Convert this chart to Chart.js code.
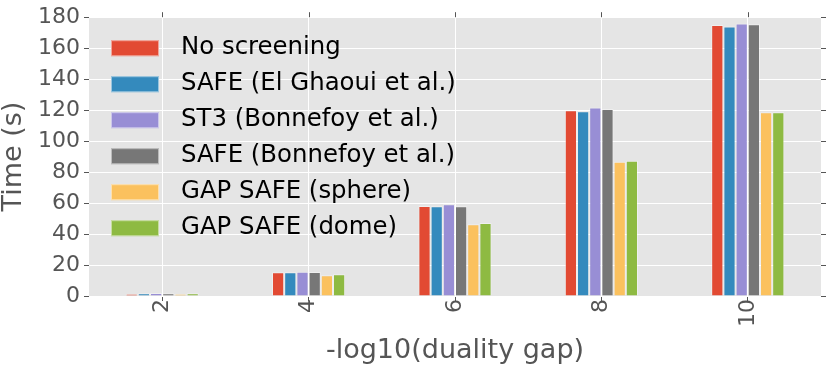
<!DOCTYPE html>
<html>
<head>
<meta charset="utf-8">
<script src="https://cdn.jsdelivr.net/npm/chart.js@4/dist/chart.umd.min.js"></script>
<style>
  html, body { margin: 0; padding: 0; background: #fff; }
  #wrap { width: 830px; height: 369px; }
</style>
</head>
<body>
<div id="wrap"><canvas id="timeChart"></canvas></div>
<script>
// data
const categories = ['2', '4', '6', '8', '10'];
const seriesNames = [
    'No screening',
    'SAFE (El Ghaoui et al.)',
    'ST3 (Bonnefoy et al.)',
    'SAFE (Bonnefoy et al.)',
    'GAP SAFE (sphere)',
    'GAP SAFE (dome)'
];
const noScreening  = [1.3, 15.3, 58.1, 120.0, 174.9];
const safeElGhaoui = [1.8, 15.3, 58.0, 119.2, 174.0];
const st3Bonnefoy  = [2.0, 15.7, 59.2, 121.7, 176.0];
const safeBonnefoy = [1.8, 15.5, 58.0, 120.8, 175.5];
const gapSphere    = [1.3, 13.4, 46.4, 86.6, 118.7];
const gapDome      = [1.7, 14.0, 47.2, 87.4, 118.6];
const yTicks = [0, 20, 40, 60, 80, 100, 120, 140, 160, 180];

const colors = ['#E24A33', '#348ABD', '#988ED5', '#777777', '#FBC15E', '#8EBA42'];
const allSeries = [noScreening, safeElGhaoui, st3Bonnefoy, safeBonnefoy, gapSphere, gapDome];

// ggplot-like panel background + top/right tick marks
const panelPlugin = {
    id: 'panel',
    beforeDraw(chart) {
        const { ctx, chartArea: a } = chart;
        ctx.save();
        ctx.fillStyle = '#E5E5E5';
        ctx.fillRect(a.left, a.top, a.right - a.left, a.bottom - a.top);
        ctx.restore();
    },
    afterDraw(chart) {
        const { ctx, chartArea: a, scales } = chart;
        ctx.save();
        ctx.strokeStyle = '#555555';
        ctx.lineWidth = 1;
        ctx.beginPath();
        scales.x.ticks.forEach((t, i) => {
            const px = Math.round(scales.x.getPixelForTick(i)) + 0.5;
            ctx.moveTo(px, a.top);
            ctx.lineTo(px, a.top - 5);
        });
        scales.y.ticks.forEach((t, i) => {
            const py = Math.round(scales.y.getPixelForTick(i)) + 0.5;
            ctx.moveTo(a.right, py);
            ctx.lineTo(a.right + 5, py);
        });
        ctx.stroke();
        ctx.restore();
    }
};

// legend inside the axes, top-left, no frame
const innerLegend = {
    id: 'innerLegend',
    afterDatasetsDraw(chart) {
        const { ctx, chartArea: a } = chart;
        ctx.save();
        ctx.font = '24.4px "DejaVu Sans"';
        ctx.textBaseline = 'middle';
        ctx.textAlign = 'left';
        chart.data.datasets.forEach((ds, i) => {
            const y = a.top + 23 + i * 36;
            ctx.fillStyle = ds.backgroundColor;
            ctx.fillRect(a.left + 22, y, 48, 16);
            ctx.strokeStyle = 'rgba(255,255,255,0.5)';
            ctx.lineWidth = 1;
            ctx.strokeRect(a.left + 22.5, y + 0.5, 47, 15);
            ctx.fillStyle = '#000000';
            ctx.fillText(ds.label, a.left + 92, y + 7.5);
        });
        ctx.restore();
    }
};

const ctx = document.getElementById('timeChart').getContext('2d');
const timeChart = new Chart(ctx, {
    type: 'bar',
    data: {
        labels: categories,
        datasets: allSeries.map((vals, i) => ({
            label: seriesNames[i],
            data: vals,
            backgroundColor: colors[i],
            borderColor: 'rgba(255,255,255,0.4)',
            borderWidth: 1,
            categoryPercentage: 0.5,
            barPercentage: 1.0
        }))
    },
    options: {
        responsive: true,
        maintainAspectRatio: false,
        animation: false,
        layout: {
            padding: { top: 14, right: 9, left: 0, bottom: 0 }
        },
        plugins: {
            legend: { display: false },
            tooltip: { enabled: false }
        },
        scales: {
            x: {
                offset: true,
                grid: {
                    offset: false,
                    color: '#FFFFFF',
                    lineWidth: 1,
                    drawTicks: true,
                    tickLength: 5,
                    tickColor: '#555555'
                },
                border: { display: false },
                ticks: {
                    color: '#555555',
                    font: { family: 'DejaVu Sans', size: 22 },
                    minRotation: 90,
                    maxRotation: 90,
                    padding: -2
                },
                title: {
                    display: true,
                    text: '-log10(duality gap)',
                    color: '#555555',
                    font: { family: 'DejaVu Sans', size: 27, lineHeight: 1 },
                    padding: { top: 0, bottom: 5 }
                },
                afterFit(scale) { scale.height = 73; }
            },
            y: {
                min: 0,
                max: 180,
                afterBuildTicks(scale) {
                    scale.ticks = yTicks.map(v => ({ value: v }));
                },
                grid: {
                    color: '#FFFFFF',
                    lineWidth: 1,
                    drawTicks: true,
                    tickLength: 5,
                    tickColor: '#555555'
                },
                border: { display: false },
                ticks: {
                    color: '#555555',
                    font: { family: 'DejaVu Sans', size: 22 },
                    padding: 4
                },
                title: {
                    display: true,
                    text: 'Time (s)',
                    color: '#555555',
                    font: { family: 'DejaVu Sans', size: 27, lineHeight: 1 },
                    padding: { top: 0, bottom: 0 }
                },
                afterFit(scale) { scale.width = 89; }
            }
        }
    },
    plugins: [panelPlugin, innerLegend]
});
</script>
</body>
</html>
